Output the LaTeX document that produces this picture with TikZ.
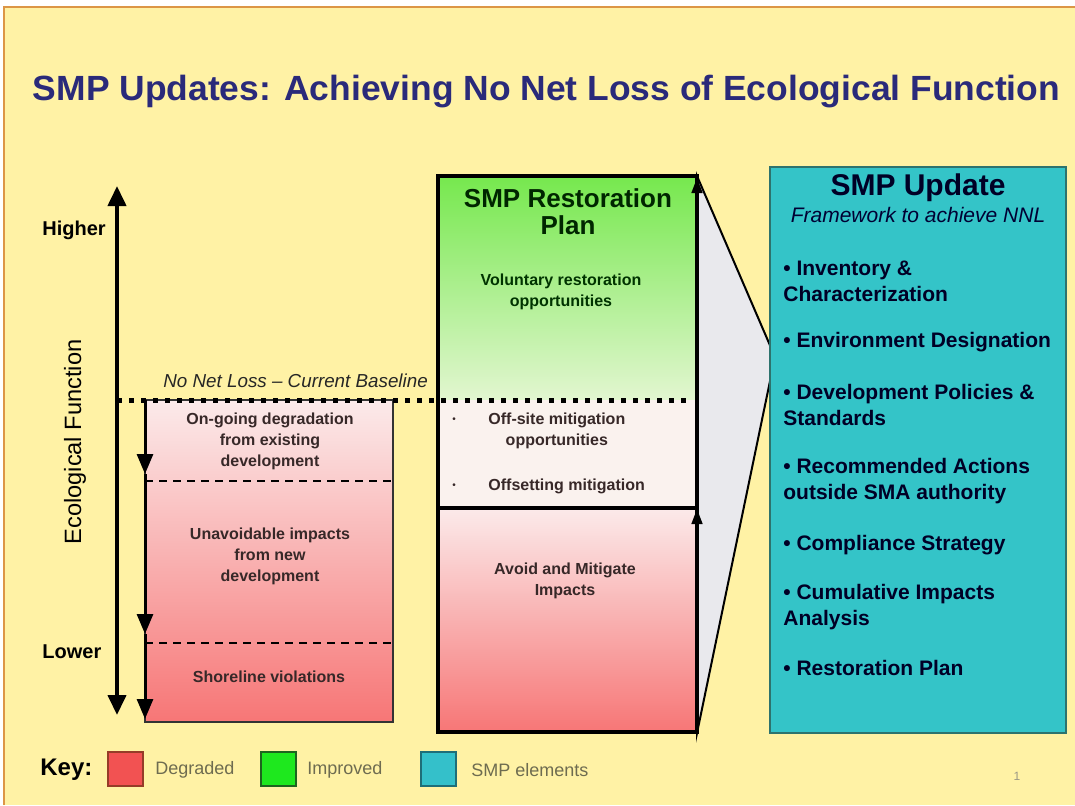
\documentclass[tikz,border=0pt]{standalone}
\usepackage{fontspec}
\setmainfont{Liberation Sans}
\usetikzlibrary{arrows.meta}
\definecolor{bgyellow}{RGB}{255,242,165}
\definecolor{frameorange}{RGB}{220,150,70}
\definecolor{titleblue}{RGB}{42,42,122}
\definecolor{boxtext}{RGB}{55,40,40}
\definecolor{tealfill}{RGB}{52,196,200}
\definecolor{tealedge}{RGB}{45,115,110}
\definecolor{redtop}{RGB}{251,234,234}
\definecolor{redbot}{RGB}{247,118,118}
\definecolor{greentop}{RGB}{118,232,78}
\definecolor{greenbot}{RGB}{226,246,208}
\definecolor{paleband}{RGB}{250,242,238}
\definecolor{wedgegray}{RGB}{233,233,237}
\definecolor{keyred}{RGB}{242,82,82}
\definecolor{keyrededge}{RGB}{150,60,40}
\definecolor{keygreen}{RGB}{30,232,30}
\definecolor{keygreenedge}{RGB}{30,100,30}
\definecolor{keyteal}{RGB}{52,192,202}
\definecolor{keytealedge}{RGB}{30,110,120}
\definecolor{keytext}{RGB}{110,108,80}
\newcommand{\myfs}[2]{\fontsize{#1}{#2}\selectfont}
\begin{document}
\begin{tikzpicture}[x=0.5pt,y=-0.5pt,
  txt/.style={inner sep=0pt, text=boxtext, font=\myfs{8}{10.5}\bfseries, align=center},
  itemtxt/.style={inner sep=0pt, text=black!85!blue, font=\myfs{10.5}{13}\bfseries, align=left, anchor=west},
  bigarrow/.style={line width=2pt, {Triangle[width=9pt,length=10pt]}-{Triangle[width=9pt,length=10pt]}},
  downarrow/.style={line width=1.5pt, -{Triangle[width=8pt,length=10pt]}},
  uparrow/.style={line width=2pt, -{Triangle[width=5pt,length=8pt]}},
  keybox/.style={line width=1pt, minimum width=17.5pt, minimum height=17pt, inner sep=0pt},
  keylabel/.style={inner sep=0pt, anchor=west, text=keytext, font=\myfs{9}{11}}]
\useasboundingbox (0,0) rectangle (1075,805);
% background
\fill[white] (0,0) rectangle (1075,805);
\fill[bgyellow] (4,7) rectangle (1075,805);
\draw[frameorange, line width=1pt] (4,805) -- (4,7) -- (1075,7);
% title
\node[inner sep=0pt, text=titleblue, font=\myfs{17.5}{20}\bfseries] (title) at (546.5,92)
  {\resizebox{513.5pt}{\height}{SMP Updates: Achieving No Net Loss of Ecological Function}};
% left box
\shade[top color=redtop, bottom color=redbot] (145,400) rectangle (393,722);
\draw[line width=1pt, black!80] (145,400) rectangle (393,722);
\draw[dashed, line width=0.75pt, dash pattern=on 4pt off 3pt] (145,481) -- (393,481);
\draw[dashed, line width=0.75pt, dash pattern=on 4pt off 3pt] (145,643) -- (393,643);
% wedge
\filldraw[fill=wedgegray, draw=black, line width=1pt] (697,176) -- (775,357) -- (697,733) -- cycle;
% middle box
\shade[top color=greentop, bottom color=greenbot] (438,176) rectangle (697,400);
\fill[paleband] (438,400) rectangle (697,508);
\shade[top color=redtop, bottom color=redbot] (438,508) rectangle (697,732);
\draw[line width=2pt] (438,176) rectangle (697,732);
\draw[line width=1.75pt] (438,508) -- (697,508);
% right box
\filldraw[fill=tealfill, draw=tealedge, line width=1pt] (770,167) rectangle (1066,733);
% coordinates
\coordinate (axtop) at (117,186);
\coordinate (axbot) at (117,715);
\coordinate (l0) at (145,400);
\coordinate (l1) at (145,474);
\coordinate (l2) at (145,634);
\coordinate (l3) at (145,719);
\coordinate (m0) at (697,732);
\coordinate (m1) at (697,508);
\coordinate (m2) at (697,177);
\coordinate (nnlL) at (117,400);
\coordinate (nnlR) at (692,400);
% baseline
\draw[line width=2.5pt, dash pattern=on 2.5pt off 3.5pt] (nnlL) -- (nnlR);
% arrows
\draw[bigarrow] (axtop) -- (axbot);
\draw[downarrow] (l0) -- (l1);
\draw[downarrow] (l1) -- (l2);
\draw[downarrow] (l2) -- (l3);
\draw[uparrow] (m0) -- (m1);
\draw[uparrow] (m1) -- (m2);
% left labels
\node[inner sep=0pt, font=\myfs{10}{12}\bfseries, anchor=west] (higher) at (42,230) {Higher};
\node[inner sep=0pt, font=\myfs{10}{12}\bfseries, anchor=west] (lower) at (42,652) {Lower};
\node[inner sep=0pt, font=\myfs{11.8}{14}, rotate=90] (ecof) at (75,442) {Ecological Function};
\node[inner sep=0pt, font=\myfs{9.4}{11}\itshape, text=black!85, anchor=west] (nnl) at (163,381) {No Net Loss -- Current Baseline};
% left box texts
\node[txt] (ongoing) at (270,441) {On-going degradation\\from existing\\development};
\node[txt] (unavoid) at (270,556) {Unavoidable impacts\\from new\\development};
\node[txt] (shore) at (269,677) {Shoreline violations};
% middle box texts
\node[inner sep=0pt, font=\myfs{13}{13.5}\bfseries, text=black!85!green, align=center] (smprest) at (568,212) {SMP Restoration\\Plan};
\node[txt, text=black!80!green] (volun) at (561,292) {Voluntary restoration\\opportunities};
\node[txt, anchor=west] (offsite) at (488,431) {Off-site mitigation\\opportunities};
\node[txt, font=\myfs{5}{6}] (bul1) at (454,420) {\textbullet};
\node[txt, anchor=west] (offset) at (488,486) {Offsetting mitigation};
\node[txt, font=\myfs{5}{6}] (bul2) at (454,486) {\textbullet};
\node[txt] (avoid) at (565,581) {Avoid and Mitigate\\Impacts};
% right box texts
\node[inner sep=0pt, font=\myfs{15}{17}\bfseries, text=black!85!blue] (smpup) at (918,188) {SMP Update};
\node[inner sep=0pt, font=\myfs{10.5}{12}\itshape, text=black!80!blue] (frame) at (918,215) {Framework to achieve NNL};
\node[itemtxt] (it1) at (783,281) {\textbullet\ Inventory \&\\Characterization};
\node[itemtxt] (it2) at (783,342) {\textbullet\ Environment Designation};
\node[itemtxt] (it3) at (783,405) {\textbullet\ Development Policies \&\\Standards};
\node[itemtxt] (it4) at (783,481) {\textbullet\ Recommended Actions\\outside SMA authority};
\node[itemtxt] (it5) at (783,545) {\textbullet\ Compliance Strategy};
\node[itemtxt] (it6) at (783,607) {\textbullet\ Cumulative Impacts\\Analysis};
\node[itemtxt] (it7) at (783,668) {\textbullet\ Restoration Plan};
% key
\node[inner sep=0pt, font=\myfs{12}{14}\bfseries, anchor=west] (key) at (40,770) {Key:};
\node[keybox, fill=keyred, draw=keyrededge] (kred) at (125.5,769) {};
\node[keylabel] (kredl) at (155,770) {Degraded};
\node[keybox, fill=keygreen, draw=keygreenedge] (kgreen) at (278,769) {};
\node[keylabel] (kgreenl) at (307,770) {Improved};
\node[keybox, fill=keyteal, draw=keytealedge] (kteal) at (438,769) {};
\node[keylabel] (ktealtl) at (471,770) {SMP elements};
\node[inner sep=0pt, font=\myfs{6}{7}, text=keytext!70] (pagenum) at (1017,776) {1};
\end{tikzpicture}
\end{document}
